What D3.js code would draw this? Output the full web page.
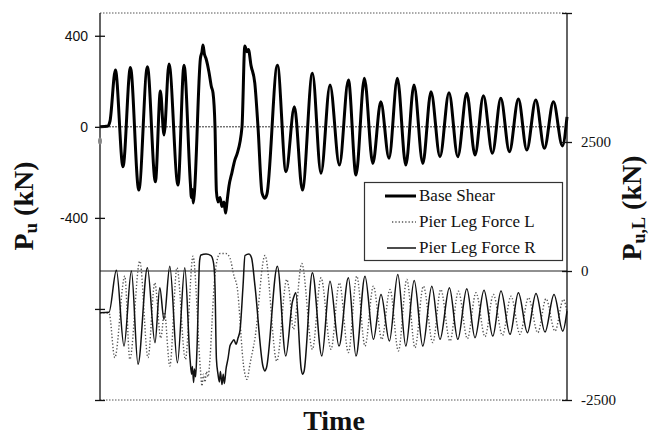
<!DOCTYPE html>
<html>
<head>
<meta charset="utf-8">
<script src="https://cdn.jsdelivr.net/npm/d3@7"></script>
<style>
  body { margin: 0; background: #fff; }
  svg { display: block; }
</style>
</head>
<body>
<svg id="svg1" width="651" height="436"></svg>
<script>
// time in s (no ticks on the time axis), forces in kN
// base shear
var baseShear = [
  [0,0],[0.4,4],[0.5,25],[0.77,250],[1.15,-175],[1.52,261],[1.94,-278],[2.37,264],
  [2.77,-241],[3.02,157],[3.2,-36],[3.45,276],[3.9,-256],[4.2,271],[4.52,-250],
  [4.57,-310],[4.62,-275],[4.66,-335],[4.72,-290],[5.02,300],[5.1,330],[5.15,359],
  [5.22,320],[5.3,300],[5.45,240],[5.57,176],[5.65,150],[5.75,0],[5.82,-283],
  [5.9,-330],[6.0,-310],[6.1,-350],[6.2,-330],[6.28,-379],[6.35,-330],[6.45,-260],
  [6.6,-200],[6.74,-146],[6.85,-120],[7.1,0],[7.24,355],[7.35,330],[7.42,340],
  [7.55,270],[7.74,192],[7.9,0],[8.1,-290],[8.25,-314],[8.35,-295],[8.87,271],
  [9.3,-197],[9.72,88],[10.12,-278],[10.62,235],[11.05,-204],[11.5,184],[11.97,-168],
  [12.42,206],[12.8,-212],[13.22,213],[13.64,-161],[14.04,110],[14.45,-138],
  [14.87,213],[15.29,-168],[15.7,184],[16.14,-161],[16.55,154],[17.0,-131],
  [17.45,150],[17.89,-131],[18.34,147],[18.75,-124],[19.17,137],[19.62,-116],
  [20.04,125],[20.47,-109],[20.92,122],[21.34,-102],[21.79,118],[22.22,-94],
  [22.67,110],[23.12,-84],[23.35,44]
];

// pier leg forces
var legL = [
  [0,-810],[0.45,-815],[0.74,-1679],[1.24,-100],[1.49,-1712],[1.99,190],[2.4,-1679],
  [2.74,-228],[3.04,-1300],[3.22,-800],[3.49,-1841],[3.85,62],[4.27,-1712],[4.65,286],
  [5.02,-1900],[5.1,-2228],[5.17,-2000],[5.25,-2150],[5.32,-1950],[5.4,-2050],
  [5.5,-1700],[5.6,-1000],[5.7,-300],[5.85,200],[6.0,338],[6.3,338],[6.5,250],
  [6.7,-100],[6.85,-294],[7.2,-1900],[7.35,-2100],[7.5,-1800],[7.75,-1300],[8.25,300],
  [8.84,-1745],[9.34,-164],[9.45,-350],[9.67,-1131],[10.09,145],[10.62,-1518],
  [11.05,-132],[11.55,-1518],[11.97,-228],[12.42,-1582],[12.84,-100],[13.25,-1455],
  [13.67,-294],[14.09,-1325],[14.5,-358],[14.92,-1551],[15.34,-164],[15.75,-1486],
  [16.17,-294],[16.64,-1389],[17.04,-358],[17.5,-1358],[17.92,-390],[18.37,-1312],
  [18.8,-421],[19.25,-1273],[19.67,-455],[20.12,-1248],[20.55,-487],[21.0,-1228],
  [21.42,-518],[21.89,-1195],[22.3,-538],[22.75,-1164],[23.17,-551],[23.35,-803]
];

var legR = [
  [0,-810],[0.45,-800],[0.82,15],[1.2,-1455],[1.57,0],[1.9,-1808],[2.37,62],
  [2.75,-1390],[2.99,-325],[3.2,-938],[3.49,93],[3.87,-1776],[4.24,62],[4.5,-1700],
  [4.58,-2000],[4.62,-1850],[4.68,-2163],[4.72,-1900],[4.78,-2050],[4.85,-1500],
  [4.98,200],[5.05,310],[5.3,330],[5.55,300],[5.68,150],[5.75,-293],[5.82,-1700],
  [5.9,-2000],[5.97,-2150],[6.02,-1950],[6.1,-2200],[6.16,-2000],[6.22,-2180],
  [6.3,-1900],[6.4,-1700],[6.5,-1450],[6.6,-1380],[6.7,-1330],[6.8,-1420],[6.9,-1300],
  [7.0,-1150],[7.15,-300],[7.25,300],[7.45,330],[7.58,250],[7.75,-293],[8.15,-1850],
  [8.25,-1938],[8.32,-1880],[8.87,93],[9.29,-1648],[9.62,-600],[9.72,-470],[9.79,-422],
  [10.06,-1900],[10.14,-2002],[10.2,-1950],[10.62,-35],[11.09,-1648],[11.5,-197],
  [11.95,-1455],[12.42,-132],[12.8,-1648],[13.25,-100],[13.67,-1325],[14.05,-455],
  [14.47,-1358],[14.89,-68],[15.29,-1455],[15.71,-185],[16.14,-1455],[16.59,-294],
  [17.0,-1325],[17.47,-325],[17.89,-1325],[18.34,-344],[18.75,-1292],[19.2,-371],
  [19.64,-1261],[20.05,-390],[20.5,-1228],[20.92,-421],[21.37,-1195],[21.8,-435],
  [22.25,-1183],[22.7,-455],[23.14,-1164],[23.35,-778]
];

var leftTicks = [400, 0, -400, -800, -1200];
var leftLabels = [400, 0, -400];
var rightTicks = [5000, 2500, 0, -2500];
var legendNames = ["Base Shear", "Pier Leg Force L", "Pier Leg Force R"];

var svg = d3.select("#svg1");
var x0 = 100, x1 = 567, yTop = 13, yBot = 400;

var x = d3.scaleLinear().domain([0, 23.35]).range([x0, x1]);
var yL = d3.scaleLinear().domain([-1200, 500]).range([yBot, yTop]);
var yR = d3.scaleLinear().domain([-2500, 5000]).range([yBot, yTop]);

// dotted frame top and bottom
svg.append("line").attr("x1", x0).attr("x2", x1).attr("y1", yTop).attr("y2", yTop)
  .attr("stroke", "#555").attr("stroke-dasharray", "1.5,1.5");
svg.append("line").attr("x1", x0).attr("x2", x1).attr("y1", yBot).attr("y2", yBot)
  .attr("stroke", "#555").attr("stroke-dasharray", "1.5,1.5");

// zero lines
svg.append("line").attr("x1", x0).attr("x2", x1).attr("y1", yL(0)).attr("y2", yL(0))
  .attr("stroke", "#333").attr("stroke-dasharray", "2,1");
svg.append("line").attr("x1", x0).attr("x2", x1).attr("y1", yR(0)).attr("y2", yR(0))
  .attr("stroke", "#222").attr("stroke-width", 1.2);

var lineL = d3.line().x(function(d){ return x(d[0]); }).y(function(d){ return yL(d[1]); })
  .curve(d3.curveMonotoneX);
var lineR = d3.line().x(function(d){ return x(d[0]); }).y(function(d){ return yR(d[1]); })
  .curve(d3.curveMonotoneX);

svg.append("path").datum(legL).attr("d", lineR)
  .attr("fill", "none").attr("stroke", "#555").attr("stroke-width", 1.4)
  .attr("stroke-dasharray", "1.3,2");
svg.append("path").datum(legR).attr("d", lineR)
  .attr("fill", "none").attr("stroke", "#111").attr("stroke-width", 1.5);
svg.append("path").datum(baseShear).attr("d", lineL)
  .attr("fill", "none").attr("stroke", "#000").attr("stroke-width", 3)
  .attr("stroke-linejoin", "round");

// left axis
var axL = svg.append("g").attr("transform", "translate(" + x0 + ",0)")
  .call(d3.axisLeft(yL).tickValues(leftTicks).tickSize(5).tickSizeOuter(0).tickPadding(7)
    .tickFormat(function(d){ return leftLabels.indexOf(d) >= 0 ? d : ""; }));
axL.select(".domain").attr("d", "M0," + yTop + "V" + yBot).attr("stroke", "#111").attr("stroke-width", 1.3);
axL.selectAll(".tick line").attr("x1", -5).attr("x2", 5).attr("stroke", "#111").attr("stroke-width", 1.3);
axL.selectAll(".tick text").attr("font-family", "Liberation Sans, Arial, sans-serif")
  .attr("font-size", 14).attr("fill", "#111");

// right axis
var axR = svg.append("g").attr("transform", "translate(" + x1 + ",0)")
  .call(d3.axisRight(yR).tickValues(rightTicks).tickSize(5).tickSizeOuter(0).tickPadding(9)
    .tickFormat(function(d){ return d == 5000 ? "" : d; }));
axR.select(".domain").attr("d", "M0," + yTop + "V" + yBot).attr("stroke", "#111").attr("stroke-width", 1.3);
axR.selectAll(".tick line").attr("x1", -5).attr("x2", 5).attr("stroke", "#111").attr("stroke-width", 1.3);
axR.selectAll(".tick text").attr("font-family", "Liberation Serif, Times New Roman, serif")
  .attr("font-size", 15).attr("fill", "#111");

// small mark on the left axis
svg.append("ellipse").attr("cx", x0).attr("cy", yL(-62)).attr("rx", 2).attr("ry", 3.5)
  .attr("fill", "#888");

// axis titles
var serif = "Liberation Serif, Times New Roman, serif";
var tl = svg.append("text").attr("transform", "translate(33,206) rotate(-90)")
  .attr("text-anchor", "middle").attr("font-family", serif).attr("font-weight", "bold")
  .attr("font-size", 28).attr("fill", "#111");
tl.append("tspan").text("P");
tl.append("tspan").attr("font-size", 19).attr("dy", 4).text("u");
tl.append("tspan").attr("dy", -4).text(" (kN)");

var tr = svg.append("text").attr("transform", "translate(641,208) rotate(-90)")
  .attr("text-anchor", "middle").attr("font-family", serif).attr("font-weight", "bold")
  .attr("font-size", 28).attr("fill", "#111");
tr.append("tspan").text("P");
tr.append("tspan").attr("font-size", 18).attr("dy", 4).text("u,L");
tr.append("tspan").attr("dy", -4).text(" (kN)");

svg.append("text").attr("x", 334).attr("y", 430).attr("text-anchor", "middle")
  .attr("font-family", serif).attr("font-weight", "bold").attr("font-size", 28)
  .attr("fill", "#111").text("Time");

// legend
var lg = svg.append("g");
lg.append("rect").attr("x", 364.5).attr("y", 182.5).attr("width", 198).attr("height", 78)
  .attr("fill", "#fff").attr("stroke", "#333").attr("stroke-width", 1.2);
var lgStyles = [
  {stroke: "#000", width: 3, dash: null, x1: 385},
  {stroke: "#555", width: 1.4, dash: "1.3,2", x1: 392},
  {stroke: "#111", width: 1.5, dash: null, x1: 387}
];
var lgY = [201, 227, 253];
legendNames.forEach(function(name, i){
  var s = lgStyles[i];
  var ln = lg.append("line").attr("x1", s.x1).attr("x2", 416)
    .attr("y1", lgY[i] - 5).attr("y2", lgY[i] - 5)
    .attr("stroke", s.stroke).attr("stroke-width", s.width);
  if (s.dash) ln.attr("stroke-dasharray", s.dash);
  lg.append("text").attr("x", 419).attr("y", lgY[i]).attr("font-family", serif)
    .attr("font-size", 17).attr("fill", "#111").text(name);
});
</script>
</body>
</html>
